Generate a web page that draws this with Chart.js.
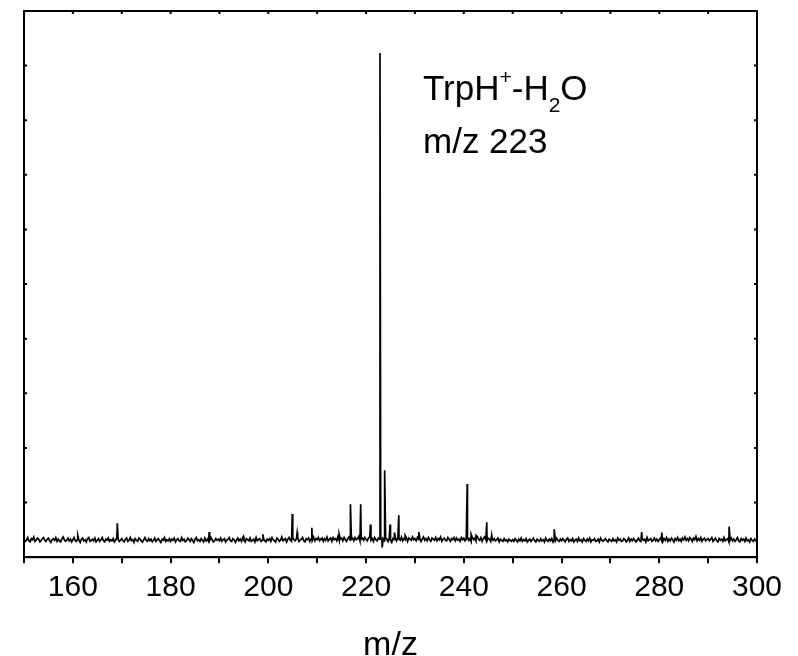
<!DOCTYPE html>
<html>
<head>
<meta charset="utf-8">
<script src="https://cdn.jsdelivr.net/npm/chart.js@4.4.1/dist/chart.umd.min.js"></script>
<style>
  html, body { margin: 0; padding: 0; background: #fff; }
  #wrap { width: 798px; height: 656px; }
</style>
</head>
<body>
<div id="wrap"><canvas id="spec" width="798" height="656"></canvas></div>
<script>
// baseline sampled every 0.25 m/z from 150 to 300 (10 values per line = 2.5 m/z)
const mzStart = 150;
const mzStep = 0.25;
const baseline = [
  0.33,0.29,0.31,0.36,0.30,0.28,0.34,0.32,0.37,0.29,
  0.31,0.35,0.33,0.28,0.30,0.34,0.36,0.31,0.29,0.33,
  0.35,0.30,0.27,0.32,0.34,0.31,0.36,0.29,0.33,0.30,
  0.28,0.34,0.37,0.32,0.29,0.31,0.35,0.30,0.33,0.28,
  0.32,0.36,0.30,0.29,0.34,0.31,0.27,0.33,0.35,0.30,
  0.32,0.28,0.34,0.36,0.29,0.31,0.33,0.30,0.35,0.28,
  0.31,0.34,0.29,0.32,0.36,0.30,0.28,0.33,0.31,0.35,
  0.29,0.32,0.30,0.34,0.28,0.31,0.36,0.33,0.29,0.31,
  0.34,0.30,0.28,0.33,0.35,0.29,0.31,0.36,0.30,0.32,
  0.27,0.34,0.31,0.29,0.35,0.33,0.30,0.28,0.32,0.36,
  0.31,0.29,0.34,0.30,0.33,0.28,0.31,0.35,0.29,0.32,
  0.34,0.30,0.27,0.33,0.31,0.36,0.29,0.32,0.30,0.34,
  0.29,0.33,0.31,0.35,0.28,0.32,0.34,0.30,0.29,0.36,
  0.31,0.33,0.28,0.30,0.35,0.32,0.29,0.34,0.31,0.27,
  0.33,0.36,0.30,0.32,0.29,0.34,0.31,0.28,0.35,0.30,
  0.33,0.29,0.31,0.36,0.32,0.28,0.30,0.34,0.31,0.33,
  0.30,0.35,0.29,0.32,0.34,0.28,0.31,0.33,0.36,0.30,
  0.29,0.34,0.32,0.27,0.31,0.35,0.30,0.33,0.29,0.36,
  0.31,0.28,0.34,0.32,0.30,0.35,0.29,0.31,0.33,0.28,
  0.36,0.30,0.32,0.34,0.29,0.31,0.35,0.30,0.28,0.33,
  0.31,0.34,0.29,0.36,0.32,0.30,0.28,0.35,0.33,0.29,
  0.31,0.37,0.30,0.32,0.34,0.28,0.33,0.36,0.31,0.29,
  0.35,0.32,0.30,0.34,0.37,0.29,0.31,0.33,0.36,0.30,
  0.28,0.34,0.32,0.35,0.29,0.33,0.31,0.37,0.30,0.34,
  0.32,0.36,0.30,0.33,0.35,0.29,0.34,0.31,0.37,0.30,
  0.33,0.35,0.29,0.36,0.32,0.34,0.30,0.38,0.31,0.33,
  0.35,0.30,0.36,0.32,0.29,0.34,0.37,0.31,0.33,0.35,
  0.30,0.36,0.32,0.34,0.38,0.30,0.33,0.35,0.31,0.36,
  0.33,0.30,0.35,0.37,0.31,0.34,0.29,0.36,0.32,0.30,
  0.35,0.33,0.37,0.31,0.34,0.30,0.36,0.33,0.29,0.35,
  0.31,0.27,0.34,0.32,0.36,0.30,0.35,0.33,0.31,0.37,
  0.30,0.34,0.32,0.36,0.29,0.35,0.33,0.31,0.37,0.32,
  0.34,0.30,0.36,0.32,0.35,0.29,0.33,0.37,0.31,0.34,
  0.30,0.36,0.32,0.29,0.35,0.33,0.31,0.36,0.30,0.34,
  0.32,0.37,0.29,0.33,0.35,0.31,0.30,0.36,0.33,0.29,
  0.34,0.32,0.36,0.30,0.35,0.31,0.33,0.29,0.36,0.32,
  0.35,0.30,0.33,0.37,0.31,0.34,0.29,0.36,0.32,0.35,
  0.30,0.38,0.33,0.31,0.36,0.29,0.34,0.37,0.32,0.30,
  0.35,0.33,0.29,0.36,0.31,0.34,0.30,0.32,0.35,0.28,
  0.33,0.31,0.29,0.34,0.30,0.32,0.28,0.33,0.31,0.29,
  0.32,0.29,0.34,0.31,0.28,0.33,0.30,0.35,0.29,0.32,
  0.30,0.34,0.28,0.31,0.33,0.29,0.32,0.35,0.30,0.28,
  0.33,0.31,0.29,0.34,0.30,0.32,0.28,0.35,0.31,0.29,
  0.33,0.30,0.34,0.28,0.32,0.30,0.35,0.31,0.29,0.33,
  0.30,0.34,0.31,0.28,0.33,0.35,0.29,0.32,0.30,0.34,
  0.28,0.31,0.33,0.29,0.35,0.30,0.32,0.28,0.34,0.31,
  0.29,0.33,0.30,0.35,0.28,0.32,0.31,0.34,0.29,0.30,
  0.33,0.28,0.35,0.31,0.29,0.32,0.34,0.30,0.28,0.33,
  0.31,0.29,0.34,0.30,0.32,0.28,0.35,0.31,0.33,0.29,
  0.30,0.34,0.32,0.28,0.31,0.35,0.29,0.33,0.30,0.34,
  0.31,0.28,0.32,0.35,0.30,0.29,0.34,0.31,0.33,0.28,
  0.36,0.30,0.32,0.34,0.29,0.31,0.35,0.30,0.33,0.29,
  0.32,0.35,0.30,0.29,0.34,0.31,0.36,0.29,0.33,0.30,
  0.35,0.32,0.28,0.34,0.31,0.36,0.30,0.33,0.29,0.35,
  0.32,0.37,0.31,0.34,0.30,0.36,0.33,0.29,0.35,0.32,
  0.38,0.30,0.34,0.31,0.36,0.29,0.33,0.35,0.30,0.32,
  0.34,0.30,0.33,0.36,0.29,0.32,0.35,0.30,0.28,0.34,
  0.31,0.33,0.29,0.36,0.30,0.32,0.34,0.28,0.31,0.35,
  0.30,0.33,0.29,0.32,0.36,0.30,0.28,0.34,0.31,0.33,
  0.29,0.35,0.30,0.32,0.28,0.34,0.31,0.29,0.33,0.30,
  0.31
];

// peaks (m/z, intensity)
const peakMz  = [161.0, 169.1, 187.9, 194.9, 198.9, 204.9, 205.9, 208.9, 214.5, 216.8, 218.9, 220.9,
                 222.85, 223.3, 223.8, 224.9, 225.8, 226.7, 228.0, 230.8, 240.7, 241.5, 242.5, 244.7,
                 245.7, 258.5, 276.4, 280.5, 294.3];
const peakInt = [0.40, 0.62, 0.46, 0.38, 0.42, 0.79, 0.45, 0.54, 0.42, 0.97, 0.97, 0.60,
                 9.23, 0.18, 1.59, 0.60, 0.45, 0.77, 0.40, 0.46, 1.34, 0.42, 0.40, 0.64,
                 0.40, 0.51, 0.46, 0.45, 0.56];

const xTicks = [160, 180, 200, 220, 240, 260, 280, 300];

// merge baseline + peaks
const points = baseline.map((v, i) => ({ x: mzStart + i * mzStep, y: v }));
peakMz.forEach((m, i) => points.push({ x: m, y: peakInt[i] }));
points.sort((a, b) => a.x - b.x);

const FONT = "'Liberation Sans', Arial, Helvetica, sans-serif";

// frame + inner ticks (top/left/right)
const framePlugin = {
  id: 'frame',
  afterDraw(chart) {
    const { ctx, chartArea: a, scales } = chart;
    ctx.save();
    ctx.strokeStyle = '#000';
    ctx.lineWidth = 2;
    ctx.strokeRect(a.left, a.top, a.right - a.left, a.bottom - a.top);
    ctx.beginPath();
    for (let v = 160; v < 300; v += 10) {
      const px = scales.x.getPixelForValue(v);
      ctx.moveTo(px, a.top);
      ctx.lineTo(px, a.top + 3);
    }
    for (let v = 1; v < 10; v++) {
      const py = scales.y.getPixelForValue(v);
      ctx.moveTo(a.left, py);
      ctx.lineTo(a.left + 3, py);
      ctx.moveTo(a.right, py);
      ctx.lineTo(a.right - 3, py);
    }
    ctx.stroke();
    ctx.restore();
  }
};

// label "TrpH+-H2O / m/z 223"
const labelPlugin = {
  id: 'peakLabel',
  afterDraw(chart) {
    const ctx = chart.ctx;
    ctx.save();
    ctx.fillStyle = '#000';
    ctx.textBaseline = 'alphabetic';
    ctx.textAlign = 'left';
    const big = '35px ' + FONT;
    const small = '21px ' + FONT;
    let x = 423, y = 100;
    const parts = [
      ['TrpH', big, 0], ['+', small, -16], ['-H', big, 0], ['2', small, 12], ['O', big, 0]
    ];
    parts.forEach(([t, f, dy]) => {
      ctx.font = f;
      ctx.fillText(t, x, y + dy);
      x += ctx.measureText(t).width;
    });
    ctx.font = big;
    ctx.fillText('m/z 223', 423, 153);
    ctx.restore();
  }
};

new Chart(document.getElementById('spec'), {
  type: 'line',
  data: {
    datasets: [{
      data: points,
      borderColor: '#000',
      borderWidth: 1.7,
      pointRadius: 0,
      tension: 0,
      fill: false
    }]
  },
  options: {
    responsive: false,
    animation: false,
    layout: { padding: { left: 24, right: 41, top: 11, bottom: 0 } },
    plugins: { legend: { display: false }, tooltip: { enabled: false } },
    scales: {
      x: {
        type: 'linear',
        min: 150,
        max: 300,
        afterBuildTicks(scale) {
          const t = [];
          for (let v = 150; v <= 300; v += 10) t.push({ value: v });
          scale.ticks = t;
        },
        ticks: {
          autoSkip: false,
          maxRotation: 0,
          color: '#000',
          padding: 7,
          font: { family: FONT, size: 30 },
          callback: v => xTicks.includes(v) ? String(v) : ''
        },
        grid: { drawOnChartArea: false, drawTicks: true, tickLength: 6, color: '#000', lineWidth: 2 },
        border: { display: true, color: '#000', width: 2 },
        title: {
          display: true,
          text: 'm/z',
          color: '#000',
          font: { family: FONT, size: 34 },
          padding: { top: 12, bottom: -10 }
        }
      },
      y: {
        display: false,
        min: 0,
        max: 10
      }
    }
  },
  plugins: [framePlugin, labelPlugin]
});
</script>
</body>
</html>
